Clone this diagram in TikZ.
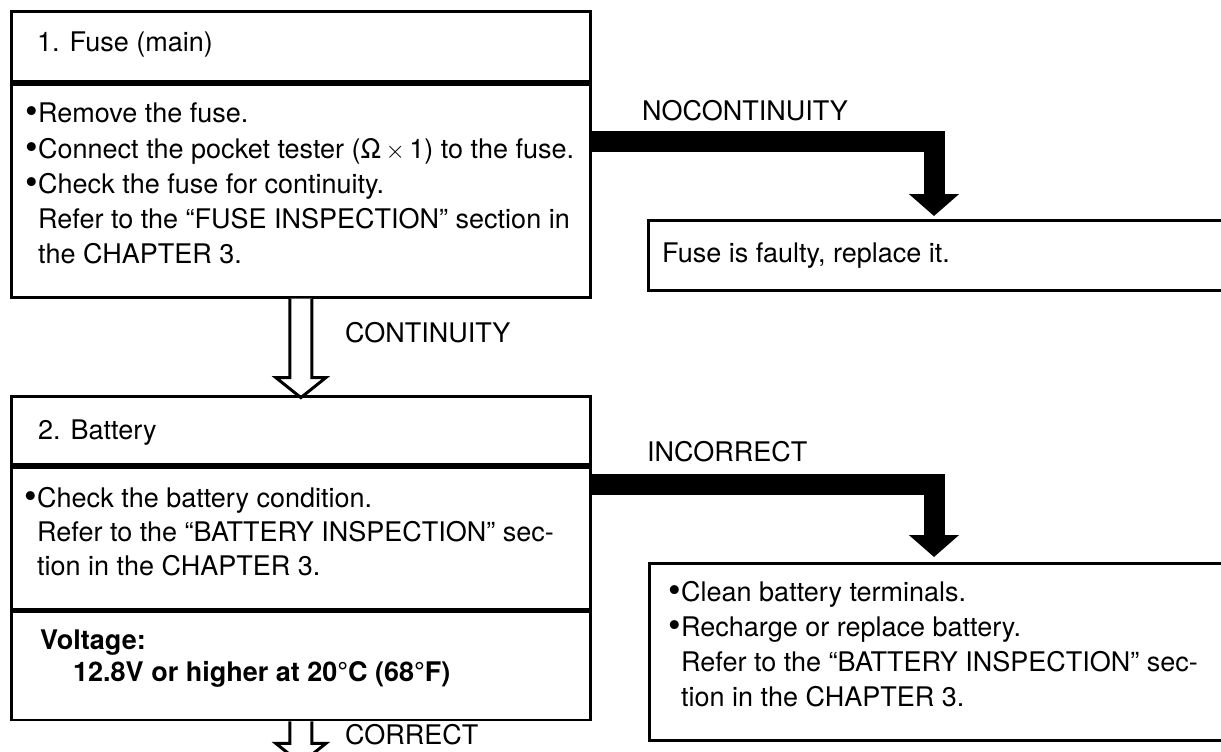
\documentclass[tikz,border=0pt]{standalone}
\usepackage{fontspec}
\setmainfont{TeX Gyre Heros}
\usetikzlibrary{arrows.meta,calc}
\newcommand{\blt}{\makebox[13pt][l]{\raisebox{-1pt}{\fontsize{36}{36}\selectfont\textbullet}}}

\begin{document}
\begin{tikzpicture}[x=1pt, y=-1pt,
    box/.style={draw, line width=2.8pt, anchor=north west, inner sep=0pt},
    txt/.style={anchor=base west, inner sep=0pt, font=\fontsize{27}{32}\selectfont},
    boldtxt/.style={txt, font=\fontsize{27}{32}\selectfont\bfseries},
    bar/.style={line width=21pt, line join=miter, -{Triangle[width=49pt,length=22pt]}},
    hollow/.style={line width=3pt, line join=miter, fill=white}]
    \useasboundingbox (0,0) rectangle (1221,752);
    \fill[white] (0,0) rectangle (1221,752);

    %% step 1 — fuse
    \node[box, minimum width=579pt, minimum height=70pt]  (fusehead) at (10,10) {};
    \node[box, minimum width=579pt, minimum height=213pt] (fusebody) at (fusehead.south west) {};
    \node[txt] (fusetitle) at (37,52) {1. Fuse (main)};
    \node[txt] (fuseA) at (25,122) {\blt Remove the fuse.};
    \node[txt] (fuseB) at (25,158) {\blt Connect the pocket tester (Ω\,$\times$\,1) to the fuse.};
    \node[txt] (fuseC) at (25,193) {\blt Check the fuse for continuity.};
    \node[txt] (fuseD) at (38,228) {Refer to the ``FUSE INSPECTION'' section in};
    \node[txt] (fuseE) at (38,263) {the CHAPTER 3.};

    \node[box, minimum width=620pt, minimum height=70pt] (faulty) at (647,219) {};
    \node[txt] (faultytext) at (662,262) {Fuse is faulty, replace it.};

    \node[txt] (nocont) at (642,121) {NOCONTINUITY};
    \coordinate (nc) at (934,141.5);
    \draw[bar, shorten >=3pt] (fusebody.east |- nc) -| (faulty.north -| nc);

    \node[txt] (cont) at (345,342) {CONTINUITY};
    \draw[hollow] ($(fusebody.south)+(-11,0)$) -- ++(0,79) -- ++(-14,0) -- ++(25,20)
        -- ++(25,-20) -- ++(-14,0) -- ($(fusebody.south)+(11,0)$);

    %% step 2 — battery
    \node[box, minimum width=579pt, minimum height=68pt]  (bathead) at (10,395) {};
    \node[box, minimum width=579pt, minimum height=142pt] (batbody) at (bathead.south west) {};
    \node[box, minimum width=579pt, minimum height=108pt] (batspec) at (batbody.south west) {};
    \node[txt] (battitle) at (38,439) {2. Battery};
    \node[txt] (batA) at (24,507) {\blt Check the battery condition.};
    \node[txt] (batB) at (37,541) {Refer to the ``BATTERY INSPECTION'' sec-};
    \node[txt] (batC) at (37,575) {tion in the CHAPTER 3.};
    \node[boldtxt] (voltA) at (40,649) {Voltage:};
    \node[boldtxt] (voltB) at (73,681) {12.8V or higher at 20°C (68°F)};

    \node[box, minimum width=620pt, minimum height=177pt] (clean) at (648,562) {};
    \node[txt] (cleanA) at (668,601) {\blt Clean battery terminals.};
    \node[txt] (cleanB) at (668,636) {\blt Recharge or replace battery.};
    \node[txt] (cleanC) at (681,671) {Refer to the ``BATTERY INSPECTION'' sec-};
    \node[txt] (cleanD) at (681,706) {tion in the CHAPTER 3.};

    \node[txt] (incorr) at (647,461) {INCORRECT};
    \coordinate (ic) at (934,484);
    \draw[bar, shorten >=5pt] (batbody.east |- ic) -| (clean.north -| ic);

    \node[txt] (corr) at (345,744) {CORRECT};
    \draw[hollow] ($(batspec.south)+(-11,0)$) -- ++(0,22) -- ++(-14,0) -- ++(25,20)
        -- ++(25,-20) -- ++(-14,0) -- ($(batspec.south)+(11,0)$);
\end{tikzpicture}
\end{document}
